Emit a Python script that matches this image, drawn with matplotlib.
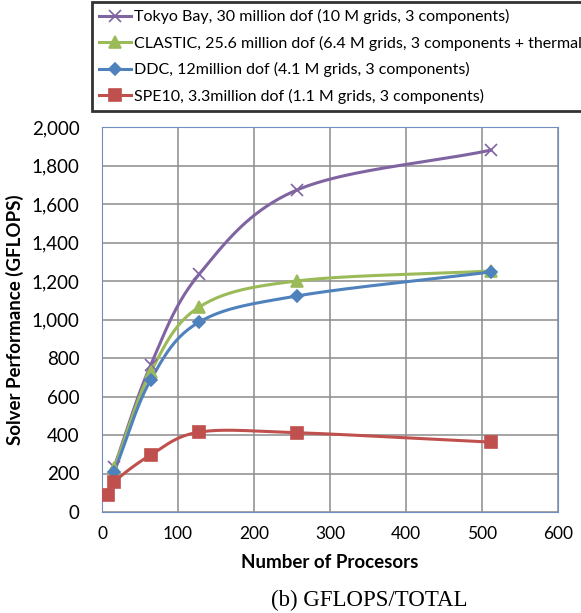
import numpy as np
import matplotlib.pyplot as plt
from matplotlib.ticker import FuncFormatter

# values
procs_a = [16, 64, 128, 256, 512]
procs_spe = [8, 16, 64, 128, 256, 512]
tokyo = [234, 763, 1236, 1672, 1880]
clastic = [228, 727, 1065, 1200, 1252]
ddc = [208, 686, 987, 1122, 1247]
spe10 = [88, 156, 296, 415, 412, 363]

labels = [
    "Tokyo Bay, 30 million dof (10 M grids, 3 components)",
    "CLASTIC, 25.6 million dof (6.4 M grids, 3 components + thermal)",
    "DDC, 12million dof (4.1 M grids, 3 components)",
    "SPE10, 3.3million dof (1.1 M grids, 3 components)",
]


def smooth(x, y, n=40):
    # Catmull-Rom style smoothing, like Excel's smoothed lines
    x = np.asarray(x, float)
    y = np.asarray(y, float)
    px = np.concatenate([[2 * x[0] - x[1]], x, [2 * x[-1] - x[-2]]])
    py = np.concatenate([[2 * y[0] - y[1]], y, [2 * y[-1] - y[-2]]])
    t = np.linspace(0, 1, n)[:, None]
    xs, ys = [], []
    for i in range(1, len(px) - 2):
        for arr, out in ((px, xs), (py, ys)):
            p0, p1, p2, p3 = arr[i - 1], arr[i], arr[i + 1], arr[i + 2]
            c = 0.5 * ((2 * p1) + (-p0 + p2) * t + (2 * p0 - 5 * p1 + 4 * p2 - p3) * t**2
                       + (-p0 + 3 * p1 - 3 * p2 + p3) * t**3)
            out.append(c.ravel())
    return np.concatenate(xs), np.concatenate(ys)


plt.rcParams['font.family'] = ['Lato', 'DejaVu Sans']

fig = plt.figure(figsize=(5.81, 6.13), dpi=100)
ax = fig.add_axes([102 / 581, 1 - 512 / 613, 456 / 581, 385 / 613])

series = [
    (procs_a, tokyo, '#8064A2', 'x', 8),
    (procs_a, clastic, '#9BBB59', '^', 8),
    (procs_a, ddc, '#4F81BD', 'D', 6),
    (procs_spe, spe10, '#C0504D', 's', 8),
]
handles = []
for (xs, ys, col, mk, ms), lab in zip(series, labels):
    sx, sy = smooth(xs, ys)
    ax.plot(sx, sy, color=col, lw=2.2, zorder=3)
    ax.plot(xs, ys, ls='none', marker=mk, color=col, ms=ms, mew=1.2, zorder=4)
    h, = plt.plot([], [], color=col, lw=2.2, marker=mk, ms=ms, mew=1.2)
    handles.append(h)

ax.set_xlim(0, 600)
ax.set_ylim(0, 2000)
ax.set_xticks(range(0, 601, 100))
ax.set_yticks(range(0, 2001, 200))
ax.yaxis.set_major_formatter(FuncFormatter(lambda v, p: f"{int(v):,}"))
ax.grid(True, color='#8c8c8c', lw=1.1)
ax.set_axisbelow(True)
for s in ax.spines.values():
    s.set_color('#6f8fc0')
ax.tick_params(axis='y', length=0, labelsize=13.5, pad=16)
ax.tick_params(axis='x', length=0, labelsize=12.5, pad=10)
ax.set_xlabel("Number of Procesors", fontsize=13.5, fontweight='bold', labelpad=9)
ax.set_ylabel("Solver Performance (GFLOPS)", fontsize=13.5, fontweight='bold', labelpad=6)

leg = fig.legend(handles, labels, loc='upper left', bbox_to_anchor=(92 / 581, 1 - 2 / 613),
                 fontsize=11.5, frameon=True, fancybox=False, handlelength=2.0,
                 handletextpad=0.15, borderpad=0.45, labelspacing=0.72, borderaxespad=0)
leg.get_frame().set_edgecolor('black')
leg.get_frame().set_linewidth(2)

fig.text(369 / 581, 1 - 600 / 613, "(b) GFLOPS/TOTAL", ha='center', va='center',
         fontsize=16.5, family='Liberation Serif')

fig.savefig('out.png', dpi=100)
